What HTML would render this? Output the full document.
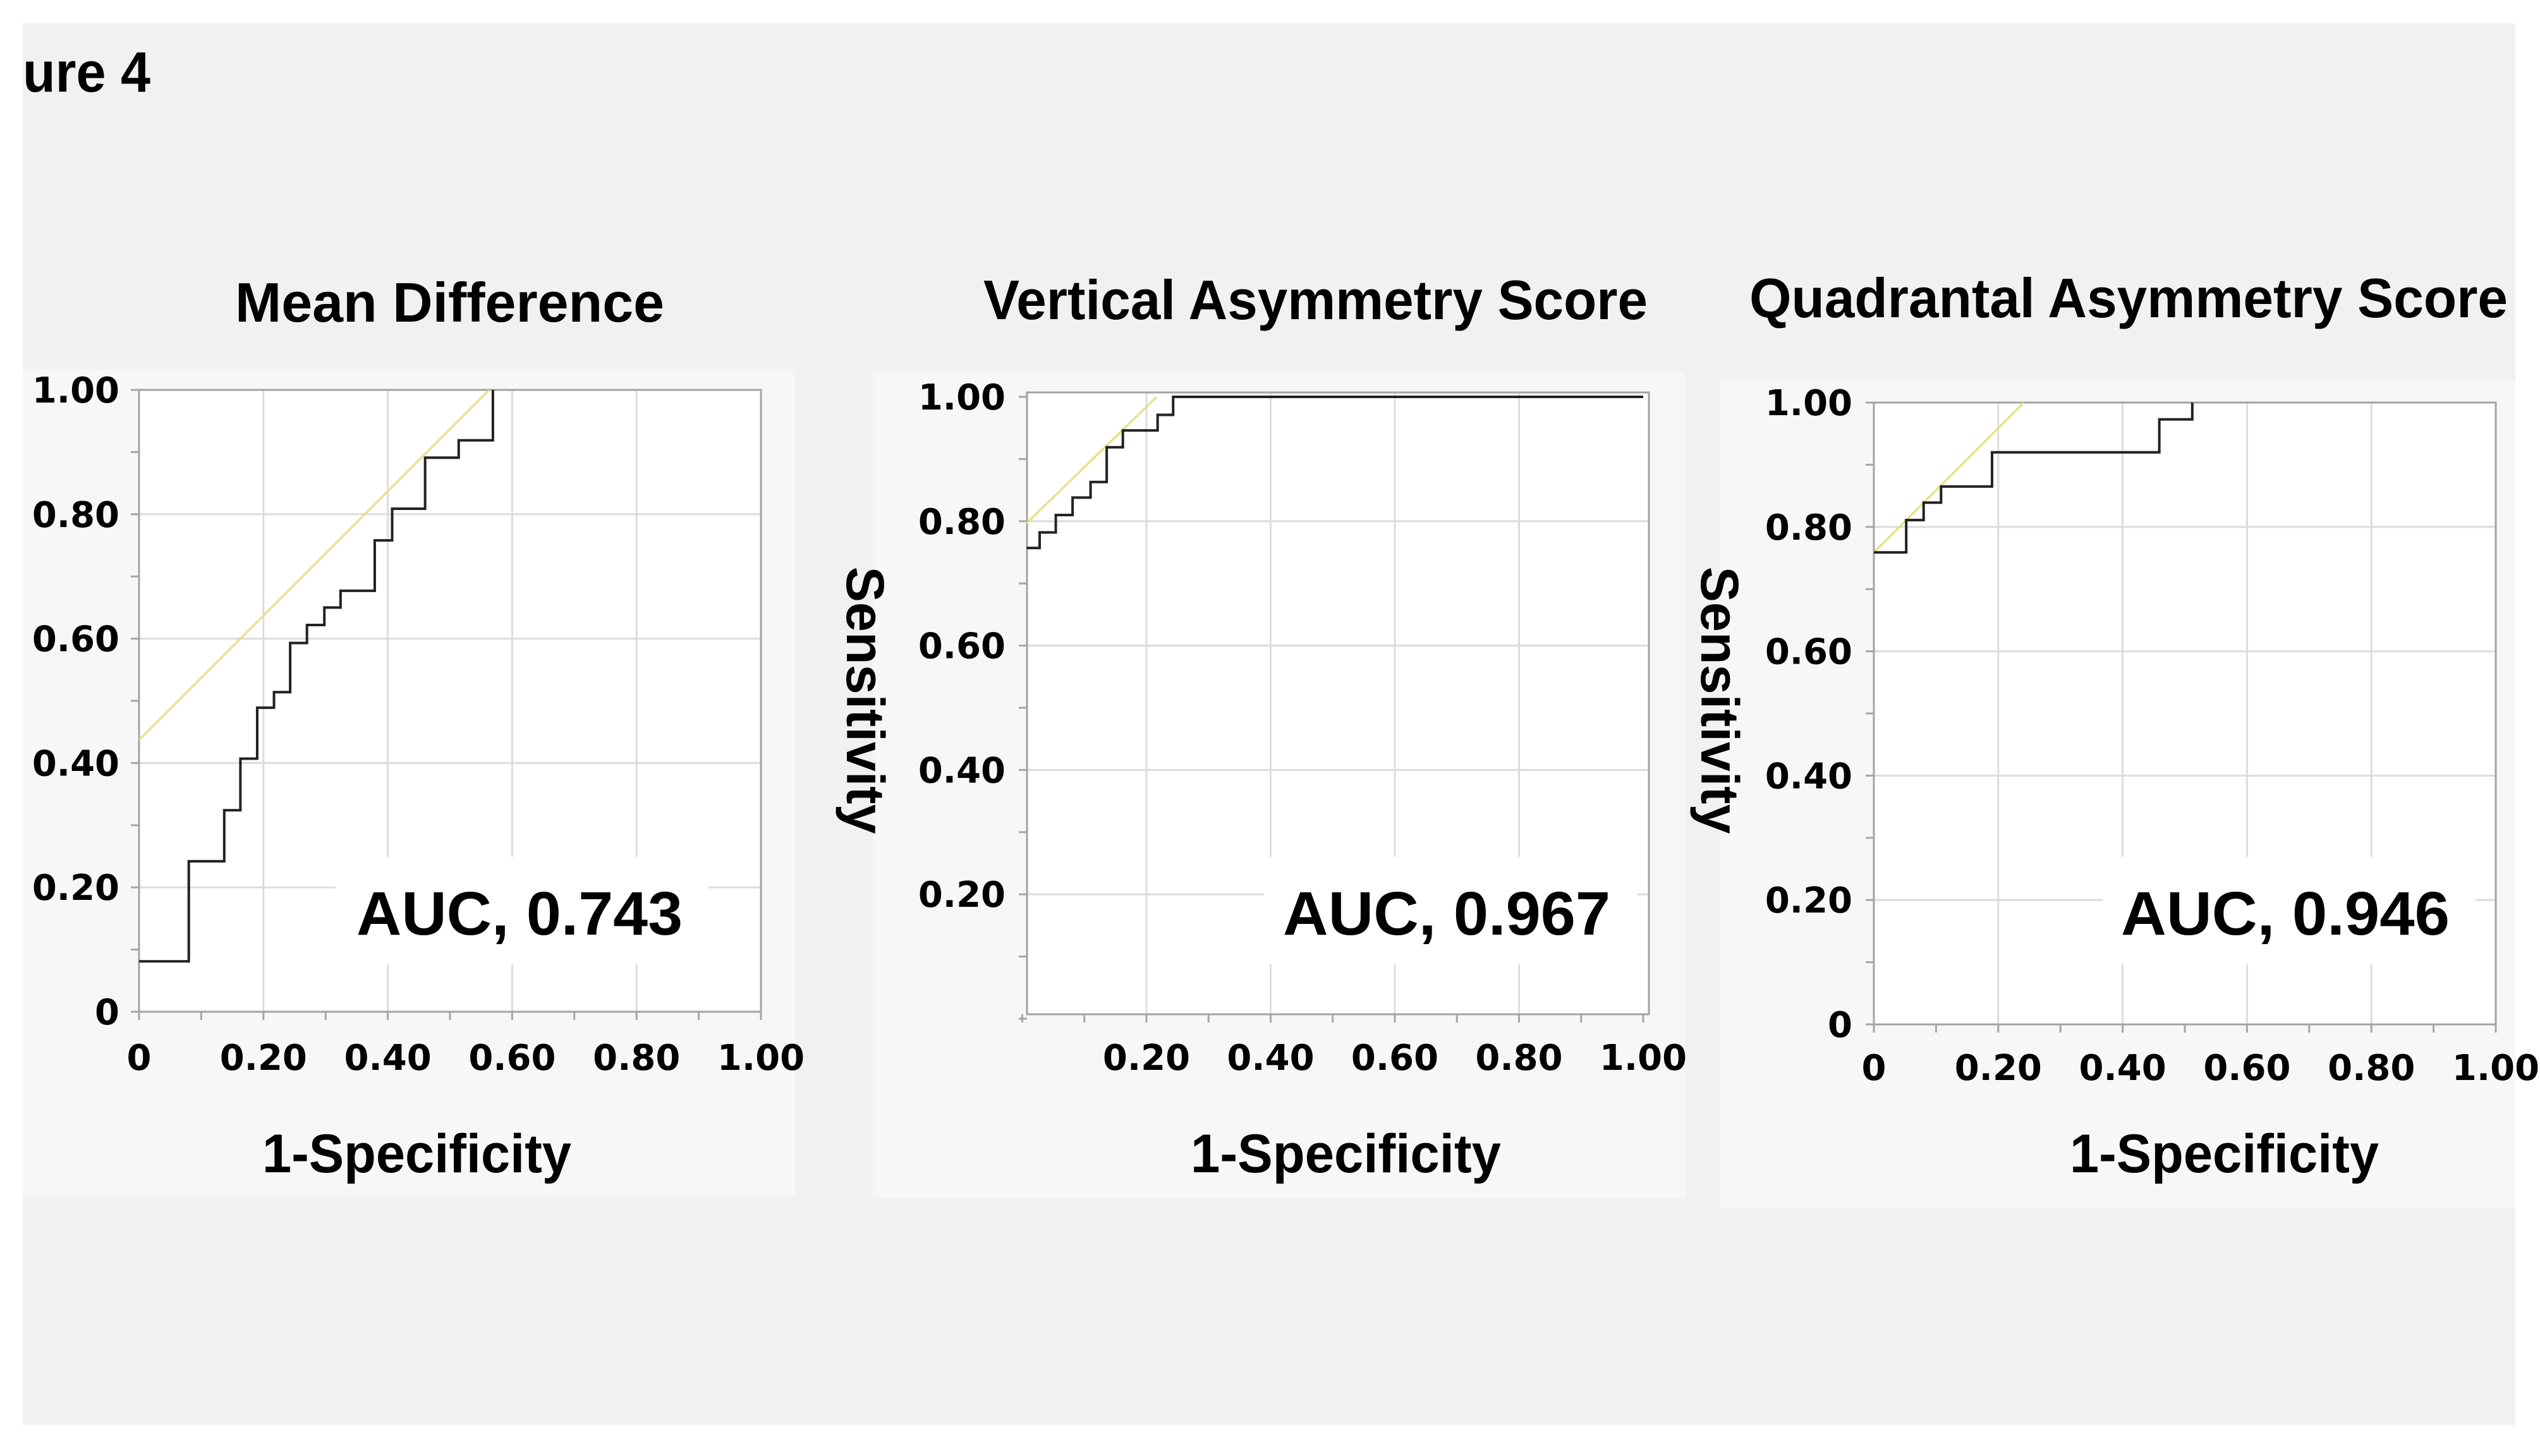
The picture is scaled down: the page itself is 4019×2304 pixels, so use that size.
<!DOCTYPE html>
<html><head><meta charset="utf-8"><style>
html,body{margin:0;padding:0;background:#fff;}
svg{display:block;}
text{font-family:"Liberation Sans",sans-serif;font-weight:bold;fill:#000;}
.tick{font-family:"DejaVu Sans","Liberation Sans",sans-serif;font-size:56px;}
</style></head><body>
<svg id="fig" width="4019" height="2304" viewBox="0 0 4019 2304" xmlns="http://www.w3.org/2000/svg">
<rect x="36" y="37" width="3944" height="2218" fill="#f1f1f1"/>
<text x="36" y="145" font-size="90" textLength="202" lengthAdjust="spacingAndGlyphs">ure 4</text>
<text x="372" y="509" font-size="88" textLength="679" lengthAdjust="spacingAndGlyphs">Mean Difference</text>
<text x="1556" y="505" font-size="88" textLength="1051" lengthAdjust="spacingAndGlyphs">Vertical Asymmetry Score</text>
<text x="2768" y="502" font-size="88" textLength="1200" lengthAdjust="spacingAndGlyphs">Quadrantal Asymmetry Score</text>
<g id="layer"></g>
</svg>
<script>
// ---- data ----
const xTicks = [0, 0.2, 0.4, 0.6, 0.8, 1.0];
const yTicks = [0, 0.2, 0.4, 0.6, 0.8, 1.0];
const tickLabels = ["0", "0.20", "0.40", "0.60", "0.80", "1.00"];
const aucLabels = ["AUC, 0.743", "AUC, 0.967", "AUC, 0.946"];
// Mean Difference ROC
const fpr1 = [0, 0.08, 0.137, 0.163, 0.19, 0.217, 0.243, 0.27, 0.298, 0.324, 0.379, 0.407, 0.46, 0.514, 0.569];
const tpr1 = [0.081, 0.242, 0.324, 0.407, 0.489, 0.514, 0.593, 0.622, 0.65, 0.677, 0.758, 0.809, 0.891, 0.919, 1.0];
const ref1 = [0.437, 1.0]; // tangent line: intercept, slope
// Vertical Asymmetry ROC
const fpr2 = [0.007, 0.028, 0.054, 0.081, 0.11, 0.136, 0.162, 0.218, 0.243, 1.0];
const tpr2 = [0.757, 0.782, 0.81, 0.838, 0.863, 0.919, 0.946, 0.971, 1.0, 1.0];
const ref2 = [0.79, 0.97];
// Quadrantal Asymmetry ROC
const fpr3 = [0, 0.052, 0.08, 0.108, 0.19, 0.459, 0.512];
const tpr3 = [0.759, 0.811, 0.839, 0.865, 0.92, 0.973, 1.0];
const ref3 = [0.759, 1.0];

// ---- layout ----
const NS = "http://www.w3.org/2000/svg";
const layer = document.getElementById('layer');
function mk(tag, attrs, parent) {
  const e = document.createElementNS(NS, tag);
  for (const k in attrs) e.setAttribute(k, attrs[k]);
  (parent || layer).appendChild(e);
  return e;
}
const panels = [
  {bg:[36,584,1222,1308], x0:220, x1:1204, y0:1601, y1:617, frame:[220,617,1204,1601],
   showZero:true, xLabBase:1693, yLabRight:189, auc:[531,1356,590,170], aucX:564, aucY:1479, aucW:516,
   xtitle:[415,1855,489], ytitle:null, fpr:fpr1, tpr:tpr1, ref:ref1},
  {bg:[1381,590,1286,1306], x0:1617.5, x1:2600, y0:1612, y1:628, frame:[1625,621,2609,1605],
   showZero:false, xLabBase:1693, yLabRight:1591, auc:[2000,1356,590,170], aucX:2030, aucY:1479, aucW:518,
   xtitle:[1884,1855,491], ytitle:[1340,1108], fpr:fpr2, tpr:tpr2, ref:ref2},
  {bg:[2721,602,1259,1310], x0:2965, x1:3949, y0:1621, y1:637, frame:[2965,637,3949,1621],
   showZero:true, xLabBase:1709, yLabRight:2931, auc:[3327,1356,590,170], aucX:3356, aucY:1479, aucW:520,
   xtitle:[3275,1855,489], ytitle:[2692,1108], fpr:fpr3, tpr:tpr3, ref:ref3}
];

panels.forEach((p, i) => {
  const g = mk('g', {});
  
  
  const sx = v => p.x0 + v * (p.x1 - p.x0);
  const sy = v => p.y0 + v * (p.y1 - p.y0);
  const [fx0, fy0, fx1, fy1] = p.frame;
  const bg = mk('rect', {x:p.bg[0], y:p.bg[1], width:p.bg[2], height:p.bg[3], fill:'#f7f7f7'}, g);
  
  
  const plot = mk('rect', {x:fx0, y:fy0, width:fx1-fx0, height:fy1-fy0, fill:'#ffffff'}, g);
  
  
  xTicks.forEach(t => {
    if (t === 0 || t === 1) return;
    const l = mk('line', {x1:sx(t), x2:sx(t), y1:fy0, y2:fy1, stroke:'#dcdcdc', 'stroke-width':3}, g);
    
    
  });
  yTicks.forEach(t => {
    if (t === 0 || t === 1) return;
    const l = mk('line', {x1:fx0, x2:fx1, y1:sy(t), y2:sy(t), stroke:'#dcdcdc', 'stroke-width':3}, g);
    
    
  });
  for (let k = 0; k <= 10; k++) {
    const v = k / 10;
    const a = mk('line', {x1:sx(v), x2:sx(v), y1:fy1, y2:fy1 + 13, stroke:'#a6a6a6', 'stroke-width':3}, g);
    
    
    const b = mk('line', {x1:fx0 - 13, x2:fx0, y1:sy(v), y2:sy(v), stroke:'#a6a6a6', 'stroke-width':3}, g);
    
    
  }
  const ab = mk('rect', {x:p.auc[0], y:p.auc[1], width:p.auc[2], height:p.auc[3], fill:'#ffffff'}, g);
  
  
  const fr = mk('rect', {x:fx0, y:fy0, width:fx1-fx0, height:fy1-fy0, fill:'none', stroke:'#a3a3a3', 'stroke-width':3}, g);
  
  
  const [b0, m] = p.ref;
  const xEnd = (1 - b0) / m;
  const xStart = p.fpr[0];
  const rl = mk('line', {x1:sx(xStart), y1:sy(b0 + m * xStart), x2:sx(xEnd), y2:sy(1), stroke:'#e6df78', 'stroke-width':3}, g);
  
  
  let d = 'M' + sx(p.fpr[0]) + ' ' + sy(p.tpr[0]);
  for (let j = 1; j < p.fpr.length; j++) {
    d += ' H' + sx(p.fpr[j]) + ' V' + sy(p.tpr[j]);
  }
  const curve = mk('path', {d:d, fill:'none', stroke:'#222', 'stroke-width':4}, g);
  
  
  xTicks.forEach((t, k) => {
    if (t === 0 && !p.showZero) return;
    const tx = mk('text', {x:sx(t), y:p.xLabBase, 'text-anchor':'middle', class:'tick'}, g);
    tx.textContent = tickLabels[k];
    
    
  });
  yTicks.forEach((t, k) => {
    if (t === 0 && !p.showZero) return;
    const ty = mk('text', {x:p.yLabRight, y:sy(t) + 20, 'text-anchor':'end', class:'tick'}, g);
    ty.textContent = tickLabels[k];
    
    
  });
  const at = mk('text', {x:p.aucX, y:p.aucY, 'font-size':97, textLength:p.aucW, lengthAdjust:'spacingAndGlyphs'}, g);
  at.textContent = aucLabels[i];
  
  
  const xt = mk('text', {x:p.xtitle[0], y:p.xtitle[1], 'font-size':86, textLength:p.xtitle[2], lengthAdjust:'spacingAndGlyphs'}, g);
  xt.textContent = '1-Specificity';
  
  
  if (p.ytitle) {
    const yt = mk('text', {x:0, y:0, 'font-size':84, 'text-anchor':'middle', textLength:423, lengthAdjust:'spacingAndGlyphs',
      transform:'translate(' + p.ytitle[0] + ',' + p.ytitle[1] + ') rotate(90)'}, g);
    yt.textContent = 'Sensitivity';
    
    
  }
});
</script>
</body></html>
